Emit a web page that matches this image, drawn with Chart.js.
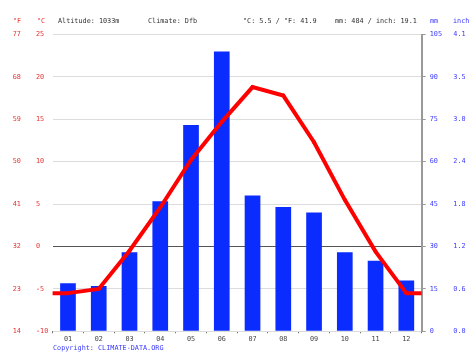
<!DOCTYPE html>
<html>
<head>
<meta charset="utf-8">
<script src="https://cdn.jsdelivr.net/npm/chart.js@4.4.1/dist/chart.umd.min.js"></script>
<style>
  html, body { margin: 0; padding: 0; background: #fff; }
  #wrap { position: relative; width: 474px; height: 355px; overflow: hidden; }
  #c { position: absolute; left: 0; top: 0; }
  .t { position: absolute; font-family: 'DejaVu Sans Mono', monospace; font-size: 6.8px; line-height: 8px; white-space: pre; }
  .red { color: #e83333; }
  .dark { color: #333; }
  .blue { color: #3a3aff; }
</style>
</head>
<body>
<div id="wrap">
  <canvas id="c" width="474" height="355"></canvas>
  <div class="t red" style="left:13px;top:17px">°F</div>
  <div class="t red" style="left:37px;top:17px">°C</div>
  <div class="t dark" style="left:58px;top:17px">Altitude: 1033m</div>
  <div class="t dark" style="left:148px;top:17px">Climate: Dfb</div>
  <div class="t dark" style="left:243px;top:17px">°C: 5.5 / °F: 41.9</div>
  <div class="t dark" style="left:335px;top:17px">mm: 484 / inch: 19.1</div>
  <div class="t blue" style="left:430px;top:17px">mm</div>
  <div class="t blue" style="left:453px;top:17px">inch</div>
  <div class="t blue" style="left:53px;top:344px">Copyright: CLIMATE-DATA.ORG</div>
</div>
<script>
const months = ['01','02','03','04','05','06','07','08','09','10','11','12'];
const precipitationMm = [17, 16, 28, 46, 73, 99, 48, 44, 42, 28, 25, 18];
const temperatureC = [-5.5, -5.0, -0.5, 4.6, 10.2, 14.7, 18.8, 17.8, 12.3, 5.5, -0.6, -5.5];
const tempTicksC = [-10, -5, 0, 5, 10, 15, 20, 25];
const tempTicksF = [14, 23, 32, 41, 50, 59, 68, 77];
const precTicksMm = [0, 15, 30, 45, 60, 75, 90, 105];
const precTicksInch = ['0.0', '0.6', '1.2', '1.8', '2.4', '3.0', '3.5', '4.1'];

const tickFont = { family: 'DejaVu Sans Mono', size: 6.8 };
const RED = '#e83333';
const BLUE = '#3a3aff';

const lineEdges = {
  id: 'lineEdges',
  afterDatasetsDraw(chart) {
    const meta = chart.getDatasetMeta(1);
    if (!meta || !meta.data.length) return;
    const ctx = chart.ctx;
    const a = chart.chartArea;
    const first = meta.data[0], last = meta.data[meta.data.length - 1];
    ctx.save();
    ctx.strokeStyle = '#ff0000';
    ctx.lineWidth = 4;
    ctx.lineCap = 'butt';
    ctx.beginPath();
    ctx.moveTo(a.left, first.y); ctx.lineTo(first.x, first.y);
    ctx.moveTo(last.x, last.y); ctx.lineTo(a.right, last.y);
    ctx.stroke();
    ctx.restore();
  }
};

new Chart(document.getElementById('c'), {
  data: {
    labels: months,
    datasets: [
      {
        type: 'bar',
        data: precipitationMm,
        yAxisID: 'mm',
        backgroundColor: '#0a2cff',
        borderWidth: 0,
        categoryPercentage: 1,
        barPercentage: 0.51,
        order: 2
      },
      {
        type: 'line',
        data: temperatureC,
        yAxisID: 'yC',
        borderColor: '#ff0000',
        backgroundColor: '#ff0000',
        borderWidth: 4,
        pointRadius: 2,
        pointBorderWidth: 0,
        tension: 0,
        order: 1
      }
    ]
  },
  options: {
    responsive: false,
    animation: false,
    events: [],
    layout: { padding: { top: 34.5, left: 12.7, right: 0, bottom: 9.7 } },
    plugins: { legend: { display: false }, tooltip: { enabled: false }, title: { display: false } },
    scales: {
      x: {
        type: 'category',
        offset: true,
        grid: { display: true, drawOnChartArea: false, offset: true, tickLength: 2, color: '#777' },
        border: { display: false },
        ticks: { font: tickFont, color: '#444', padding: 2, maxRotation: 0, autoSkip: false },
        afterFit: (s) => { s.height = 14; }
      },
      yF: {
        type: 'linear', position: 'left', weight: 2,
        min: -10, max: 25,
        grid: { display: false, drawTicks: false },
        border: { display: false },
        ticks: {
          stepSize: 5, font: tickFont, color: RED, crossAlign: 'far', padding: 0,
          callback: (v) => { const i = tempTicksC.indexOf(v); return i < 0 ? '' : String(tempTicksF[i]); }
        },
        afterFit: (s) => { s.width = 23.3; }
      },
      yC: {
        type: 'linear', position: 'left', weight: 1,
        min: -10, max: 25,
        grid: {
          drawTicks: false,
          color: (c) => c.tick && c.tick.value === 0 ? '#555' : '#dcdcdc',
          lineWidth: 1
        },
        border: { display: false },
        ticks: {
          stepSize: 5, font: tickFont, color: RED, crossAlign: 'far', padding: 0,
          callback: (v) => { const i = tempTicksC.indexOf(v); return i < 0 ? '' : String(tempTicksC[i]); }
        },
        afterFit: (s) => { s.width = 16.6; }
      },
      mm: {
        type: 'linear', position: 'right', weight: 1,
        min: 0, max: 105,
        grid: { drawOnChartArea: false, drawTicks: true, tickLength: 4, color: '#999' },
        border: { display: true, color: '#999', width: 2 },
        ticks: {
          stepSize: 15, font: tickFont, color: BLUE, crossAlign: 'near', padding: 4,
          callback: (v) => { const i = precTicksMm.indexOf(v); return i < 0 ? '' : String(precTicksMm[i]); }
        },
        afterFit: (s) => { s.width = 31.6; }
      },
      inch: {
        type: 'linear', position: 'right', weight: 2,
        min: 0, max: 105,
        grid: { display: false, drawTicks: false },
        border: { display: false },
        ticks: {
          stepSize: 15, font: tickFont, color: BLUE, crossAlign: 'near', padding: 0,
          callback: (v) => { const i = precTicksMm.indexOf(v); return i < 0 ? '' : precTicksInch[i]; }
        },
        afterFit: (s) => { s.width = 20.7; }
      }
    }
  },
  plugins: [lineEdges]
});
</script>
</body>
</html>
